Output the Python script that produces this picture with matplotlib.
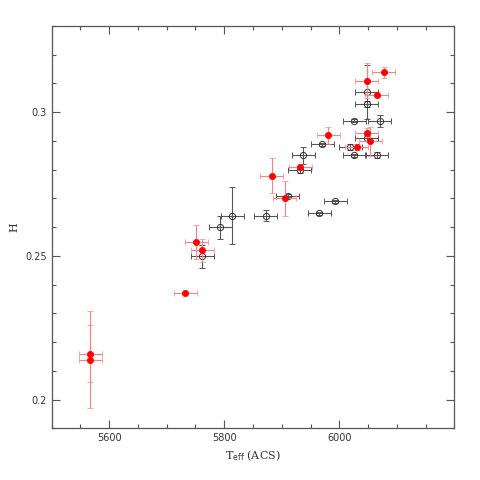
import matplotlib
matplotlib.use("Agg")
import matplotlib.pyplot as plt
from matplotlib.ticker import MultipleLocator

# Red filled points
red_teff = [6077, 6048, 6065, 5981, 6048, 6054, 6030, 5932, 5883, 5905, 5751, 5762, 5732, 5567, 5567]
red_h    = [0.3139, 0.3110, 0.3059, 0.2919, 0.2929, 0.2899, 0.2879, 0.2809, 0.2779, 0.2700, 0.2549, 0.2519, 0.2370, 0.2160, 0.2139]
red_xerr = [20, 20, 20, 20, 20, 20, 20, 20, 20, 20, 20, 20, 20, 20, 20]
red_yerr = [0.002, 0.006, 0.0005, 0.003, 0.0015, 0.005, 0.001, 0.001, 0.006, 0.006, 0.006, 0.004, 0.0005, 0.010, 0.017]

# Black open points
blk_teff = [6048, 6048, 6026, 6070, 6048, 6019, 5970, 5937, 6026, 6065, 5931, 5910, 5993, 5965, 5872, 5814, 5793, 5762]
blk_h    = [0.3070, 0.3029, 0.2970, 0.2970, 0.2910, 0.2880, 0.2889, 0.2850, 0.2850, 0.2850, 0.2798, 0.2709, 0.2690, 0.2649, 0.2640, 0.2640, 0.2599, 0.2499]
blk_xerr = [20, 20, 20, 20, 20, 20, 20, 20, 20, 20, 20, 20, 20, 20, 20, 20, 20, 20]
blk_yerr = [0.0095, 0.001, 0.0005, 0.002, 0.001, 0.001, 0.0005, 0.003, 0.0005, 0.001, 0.001, 0.0005, 0.0005, 0.0005, 0.002, 0.010, 0.004, 0.004]

fig = plt.figure(figsize=(4.8, 4.8), dpi=100)
ax = fig.add_axes([0.1077, 0.1077, 0.8388, 0.8381])

ax.errorbar(blk_teff, blk_h, xerr=blk_xerr, yerr=blk_yerr, fmt='o', mfc='none',
            mec='#333333', ms=4.5, mew=0.7, ecolor='#555555', elinewidth=0.8,
            capsize=2, capthick=0.8, zorder=2)
ax.errorbar(red_teff, red_h, xerr=red_xerr, yerr=red_yerr, fmt='o', mfc='red',
            mec='red', ms=4.5, mew=0.5, ecolor='#ff8080', elinewidth=0.8,
            capsize=2, capthick=0.8, zorder=3)

ax.set_xlim(5500, 6200)
ax.set_ylim(0.19, 0.33)
ax.xaxis.set_major_locator(MultipleLocator(200))
ax.xaxis.set_minor_locator(MultipleLocator(50))
ax.yaxis.set_major_locator(MultipleLocator(0.05))
ax.yaxis.set_minor_locator(MultipleLocator(0.01))
ax.set_xticks([5600, 5800, 6000])
ax.set_xticklabels(['5600', '5800', '6000'])
ax.set_yticks([0.2, 0.25, 0.3])
ax.set_yticklabels(['0.2', '0.25', '0.3'])

ax.tick_params(which='both', direction='in', top=True, right=True, colors='#555555',
               labelcolor='#333333', labelsize=7, width=0.8)
ax.tick_params(which='major', length=6)
ax.tick_params(which='minor', length=3)
for s in ax.spines.values():
    s.set_color('#555555')
    s.set_linewidth(0.9)

ax.set_xlabel(r'T$_{\rm eff}$ (ACS)', fontsize=8, family='DejaVu Serif', color='#333333', labelpad=4)
ax.set_ylabel('H', fontsize=8, family='DejaVu Serif', color='#333333', labelpad=4)

fig.savefig('out.png', dpi=100)
